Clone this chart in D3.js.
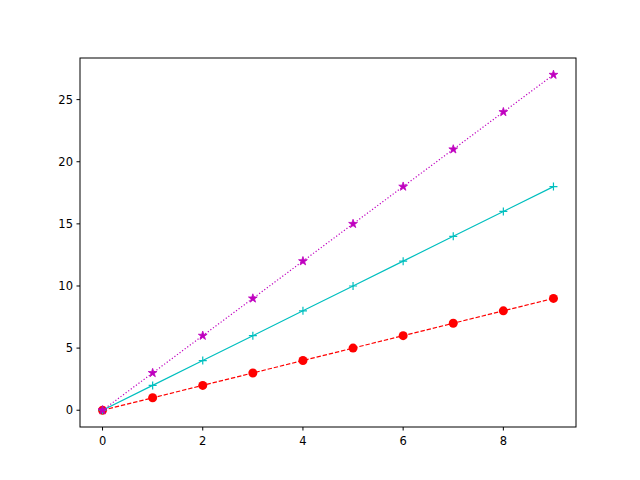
<!DOCTYPE html>
<html><head><meta charset="utf-8">
<script src="https://cdn.jsdelivr.net/npm/d3@7"></script>
<style>body{margin:0;background:#fff}text{font-family:"DejaVu Sans";}</style>
</head><body><svg id="c" width="640" height="480"></svg>
<script>
const xs = [0,1,2,3,4,5,6,7,8,9];
const redVals = [0,1,2,3,4,5,6,7,8,9];
const cyanVals = [0,2,4,6,8,10,12,14,16,18];
const magVals = [0,3,6,9,12,15,18,21,24,27];
const xTicks = [0,2,4,6,8];
const yTicks = [0,5,10,15,20,25];

const svg = d3.select("#c");
const L=80,R=576,T=58,B=427;
const x = d3.scaleLinear().domain([-0.45,9.45]).range([L,R]);
const y = d3.scaleLinear().domain([-1.35,28.35]).range([B,T]);

const line = vals => d3.line().x((d,i)=>x(xs[i])).y(d=>y(d))(vals);

function series(vals,color,dash,marker){
  svg.append("path").attr("d",line(vals)).attr("fill","none").attr("stroke",color)
    .attr("stroke-width",1.2).attr("stroke-dasharray",dash);
  const g=svg.append("g");
  vals.forEach((v,i)=>{
    const cx=x(xs[i]),cy=y(v);
    if(marker==="o") g.append("circle").attr("cx",cx).attr("cy",cy).attr("r",4.5).attr("fill",color);
    else if(marker==="+") g.append("path").attr("d",`M${cx-4},${cy}H${cx+4}M${cx},${cy-4}V${cy+4}`).attr("stroke",color).attr("stroke-width",1.2);
    else g.append("path").attr("d",d3.symbol(d3.symbolStar,24)()).attr("transform",`translate(${cx},${cy})`).attr("fill",color).attr("stroke",color).attr("stroke-width",0.8);
  });
}
series(redVals,"#ff0000","4.4,1.9","o");
series(cyanVals,"#00bfbf",null,"+");
series(magVals,"#bf00bf","1.2,2","*");

svg.append("rect").attr("x",L).attr("y",T).attr("width",R-L).attr("height",B-T)
  .attr("fill","none").attr("stroke","#000").attr("stroke-width",1);

xTicks.forEach(t=>{
  svg.append("line").attr("x1",x(t)).attr("x2",x(t)).attr("y1",B).attr("y2",B+3.5).attr("stroke","#000");
  svg.append("text").attr("x",x(t)).attr("y",B+18).attr("text-anchor","middle").attr("font-size",11.5).text(t);
});
yTicks.forEach(t=>{
  svg.append("line").attr("x1",L-3.5).attr("x2",L).attr("y1",y(t)).attr("y2",y(t)).attr("stroke","#000");
  svg.append("text").attr("x",L-7).attr("y",y(t)).attr("dy","0.35em").attr("text-anchor","end").attr("font-size",11.5).text(t);
});
</script></body></html>
